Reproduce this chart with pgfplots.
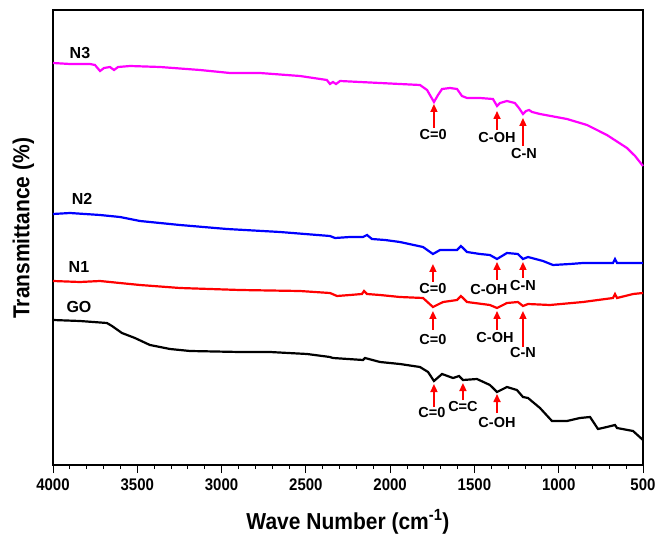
\documentclass[border=0pt]{standalone}
\usepackage{pgfplots}
\pgfplotsset{compat=1.18}
\usepackage{fontspec}
\setmainfont{Liberation Sans}
\usetikzlibrary{arrows.meta}
\definecolor{mag}{RGB}{255,0,255}
\begin{document}
\begin{tikzpicture}
\useasboundingbox (-53pt,-71pt) rectangle (609pt,465pt);
\begin{axis}[
  scale only axis, width=590pt, height=455pt,
  x dir=reverse, xmin=500, xmax=4000, ymin=71, ymax=526,
  xtick={500,1000,...,4000}, minor x tick num=4,
  xtick pos=bottom, ytick=\empty, tick align=outside,
  major tick length=8pt, minor tick length=4pt,
  every tick/.style={black, line width=0.9pt},
  axis line style={line width=1.2pt},
  /pgf/number format/assume math mode=true,
  /pgf/number format/1000 sep={},
  xticklabel={\scalebox{1}[1.12]{\pgfmathprintnumber{\tick}}},
  xticklabel style={font=\fontsize{15}{15}\selectfont\bfseries, yshift=-2pt},
  xlabel={\scalebox{1}[1.1]{Wave Number (cm\textsuperscript{-1})}},
  ylabel={\scalebox{1}[1.1]{Transmittance (\%)}},
  xlabel style={font=\fontsize{21}{21}\selectfont\bfseries, at={(axis description cs:0.5,-0.125)}, anchor=center},
  ylabel style={font=\fontsize{21}{21}\selectfont\bfseries, at={(axis description cs:-0.05,0.52)}, anchor=center},
  clip=false,
]
\addplot[mag, line width=2.2pt] coordinates {
(4000,473)(3899,472)(3781,472)(3751,471)(3721,465)(3697,468)(3662,469)(3638,466)(3614,469)(3543,470)
(3365,469)(3128,466)(3009,464)(2950,463)(2772,463)(2535,460)(2375,456)(2357,452)(2339,454)(2321,452)
(2297,455)(2179,454)(2060,453)(1942,452)(1823,451)(1781,446)(1740,434)(1716,441)(1692,447)(1645,448)
(1603,447)(1574,440)(1544,438)(1467,438)(1390,437)(1366,430)(1348,433)(1307,435)(1260,433)(1236,428)
(1212,422)(1194,425)(1176,426)(1158,424)(1111,422)(951,417)(832,411)(714,401)(595,388)(547,380)(500,370)};
\addplot[blue, line width=2.2pt] coordinates {
(4000,322)(3899,323)(3721,321)(3603,319)(3484,315)(3247,311)(2968,307)(2653,304)(2357,300)(2327,298)
(2238,299)(2161,299)(2137,301)(2108,297)(2030,296)(1942,294)(1805,289)(1746,282)(1704,286)(1603,286)
(1580,290)(1544,284)(1467,282)(1408,281)(1366,277)(1307,283)(1242,282)(1212,277)(1182,279)(1093,275)
(1034,271)(933,272)(856,273)(755,273)(678,273)(666,277)(654,273)(500,273)};
\addplot[red, line width=2.2pt] coordinates {
(4000,255)(3840,254)(3721,255)(3603,253)(3484,251)(3247,248)(2891,246)(2535,245)(2357,243)(2315,240)
(2238,241)(2167,242)(2155,245)(2137,242)(2060,241)(1942,239)(1805,238)(1746,229)(1686,234)(1603,236)
(1580,240)(1544,234)(1408,231)(1366,228)(1307,233)(1242,234)(1212,230)(1182,232)(1052,231)(856,234)
(678,238)(666,242)(654,238)(559,242)(500,243)};
\addplot[black, line width=2.2pt] coordinates {
(4000,216)(3840,215)(3680,213)(3650,210)(3591,203)(3514,198)(3425,191)(3306,187)(3187,185)(2891,184)
(2713,184)(2493,182)(2357,179)(2339,178)(2161,176)(2149,178)(2060,174)(1942,172)(1823,169)(1775,164)
(1740,155)(1692,162)(1627,158)(1591,160)(1568,156)(1485,157)(1408,151)(1366,144)(1307,149)(1248,146)
(1212,139)(1182,138)(1111,128)(1040,115)(951,115)(874,118)(814,119)(767,107)(714,109)(666,111)
(654,108)(559,105)(500,96)};
% labels
\tikzset{cl/.style={font=\fontsize{16}{16}\selectfont\bfseries}, al/.style={font=\fontsize{14.5}{14.5}\selectfont\bfseries}, ar/.style={red, line width=1.6pt, -{Triangle[length=8pt,width=7pt]}}}
\node[cl] at (axis cs:3840,483) {N3};
\node[cl] at (axis cs:3828,337) {N2};
\node[cl] at (axis cs:3846,269) {N1};
\node[cl] at (axis cs:3846,229) {GO};
% N3
\draw[ar] (axis cs:1740,408) -- (axis cs:1740,432);
\node[al] at (axis cs:1745,401) {C=0};
\draw[ar] (axis cs:1366,406) -- (axis cs:1366,425);
\node[al] at (axis cs:1366,398) {C-OH};
\draw[ar] (axis cs:1212,390) -- (axis cs:1212,418);
\node[al] at (axis cs:1206,382) {C-N};
% N2
\draw[ar] (axis cs:1746,254) -- (axis cs:1746,272);
\node[al] at (axis cs:1746,247) {C=0};
\draw[ar] (axis cs:1366,256) -- (axis cs:1366,274);
\node[al] at (axis cs:1414,246) {C-OH};
\draw[ar] (axis cs:1212,258) -- (axis cs:1212,274);
\node[al] at (axis cs:1212,250) {C-N};
% N1
\draw[ar] (axis cs:1746,206) -- (axis cs:1746,225);
\node[al] at (axis cs:1746,196) {C=0};
\draw[ar] (axis cs:1366,206) -- (axis cs:1366,225);
\node[al] at (axis cs:1378,198) {C-OH};
\draw[ar] (axis cs:1212,189) -- (axis cs:1212,225);
\node[al] at (axis cs:1212,183) {C-N};
% GO
\draw[ar] (axis cs:1740,129) -- (axis cs:1740,152);
\node[al] at (axis cs:1752,123) {C=0};
\draw[ar] (axis cs:1568,136) -- (axis cs:1568,153);
\node[al] at (axis cs:1568,129) {C=C};
\draw[ar] (axis cs:1366,123) -- (axis cs:1366,142);
\node[al] at (axis cs:1366,113) {C-OH};
\end{axis}
\end{tikzpicture}
\end{document}
